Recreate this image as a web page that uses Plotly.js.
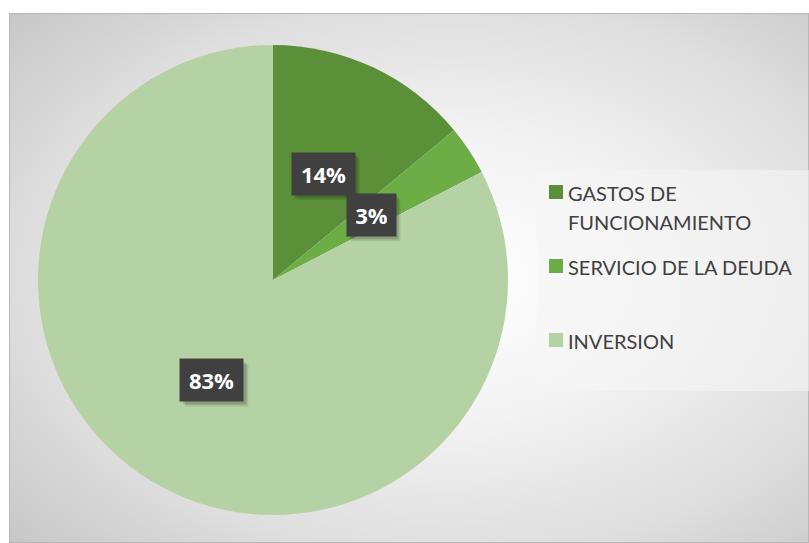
<!DOCTYPE html>
<html>
<head>
<meta charset="utf-8">
<script src="https://cdn.plot.ly/plotly-3.0.1.min.js"></script>
<style>
  html, body { margin: 0; padding: 0; background: #ffffff; width: 809px; height: 543px; overflow: hidden; }
  #frame {
    position: absolute; left: 9px; top: 13px; width: 800px; height: 530px;
    background: radial-gradient(ellipse 75% 75% at 55% 50%, #ffffff 0%, #f3f3f3 35%, #dedede 70%, #c6c6c6 100%);
    box-shadow: inset 0 0 0 1px #b8b8b8;
  }
  #chart { position: absolute; left: 0; top: 0; width: 800px; height: 530px; }
</style>
</head>
<body>
<div id="frame"><div id="chart"></div></div>
<script>
// ---- data ----
const categories = ['GASTOS DE<br>FUNCIONAMIENTO', 'SERVICIO DE LA DEUDA', 'INVERSION'];
const shares = [14.0, 3.4, 82.6];
const colors = ['#5b8f38', '#6cad46', '#b5d2a4'];

// ---- geometry (pixels inside the 800x530 plot) ----
const W = 800, H = 530;
const cx = 264, cy = 267, R = 235;
const px2x = p => p / W;
const py2y = p => 1 - p / H;

const trace = {
  type: 'pie',
  values: shares,
  labels: categories,
  marker: { colors: colors, line: { width: 0 } },
  sort: false,
  direction: 'clockwise',
  rotation: 0,
  textinfo: 'none',
  hoverinfo: 'skip',
  showlegend: false,
  domain: { x: [px2x(cx - R), px2x(cx + R)], y: [py2y(cy + R), py2y(cy - R)] }
};

// percent label boxes placed at half radius along each slice's mid angle
const total = shares.reduce((a, b) => a + b, 0);
const annotations = [];
const shapes = [];
let cum = 0;
const PAD = 9, TH = 24;
shares.forEach((v, i) => {
  const mid = (cum + v / 2) / total * 2 * Math.PI;
  cum += v;
  const lx = cx + 0.5 * R * Math.sin(mid);
  const ly = cy - 0.5 * R * Math.cos(mid);
  const txt = Math.round(v / total * 100) + '%';
  const tw = txt.length * 14 + 3;
  const bw = tw + 2 * PAD, bh = TH + 2 * PAD;
  // soft shadow (two layers)
  [[5, 'rgba(0,0,0,0.10)'], [3, 'rgba(0,0,0,0.16)']].forEach(([off, col]) => {
    shapes.push({
      type: 'rect', xref: 'paper', yref: 'paper', layer: 'above',
      x0: px2x(lx - bw / 2 + off), x1: px2x(lx + bw / 2 + off),
      y0: py2y(ly + bh / 2 + off), y1: py2y(ly - bh / 2 + off),
      fillcolor: col, line: { width: 0 }
    });
  });
  annotations.push({
    xref: 'paper', yref: 'paper', x: px2x(lx), y: py2y(ly),
    xanchor: 'center', yanchor: 'middle', showarrow: false,
    width: tw, height: TH, borderpad: PAD,
    text: '<b>' + txt + '</b>',
    font: { family: 'Open Sans, sans-serif', size: 22, color: '#ffffff' },
    bgcolor: '#404040'
  });
});

// legend drawn from categories/colors
shapes.push({
  type: 'rect', xref: 'paper', yref: 'paper', layer: 'below',
  x0: px2x(528), x1: px2x(800), y0: py2y(378), y1: py2y(157),
  fillcolor: 'rgba(246,246,246,0.55)', line: { width: 0 }
});
const legendRowY = [179, 253, 327];
categories.forEach((c, i) => {
  const y = legendRowY[i];
  shapes.push({
    type: 'rect', xref: 'paper', yref: 'paper',
    x0: px2x(540), x1: px2x(554), y0: py2y(y + 7), y1: py2y(y - 7),
    fillcolor: colors[i], line: { width: 0 }
  });
  c.split('<br>').forEach((line, k) => {
    annotations.push({
      xref: 'paper', yref: 'paper', x: px2x(557), y: py2y(y + 1 + k * 29),
      xanchor: 'left', yanchor: 'middle', showarrow: false, text: line,
      font: { family: 'Lato, sans-serif', size: 20, color: '#404040' }
    });
  });
});

const layout = {
  width: W, height: H,
  margin: { l: 0, r: 0, t: 0, b: 0 },
  paper_bgcolor: 'rgba(0,0,0,0)',
  plot_bgcolor: 'rgba(0,0,0,0)',
  showlegend: false,
  annotations: annotations,
  shapes: shapes
};

Plotly.newPlot('chart', [trace], layout, { displayModeBar: false, staticPlot: true });
</script>
</body>
</html>
